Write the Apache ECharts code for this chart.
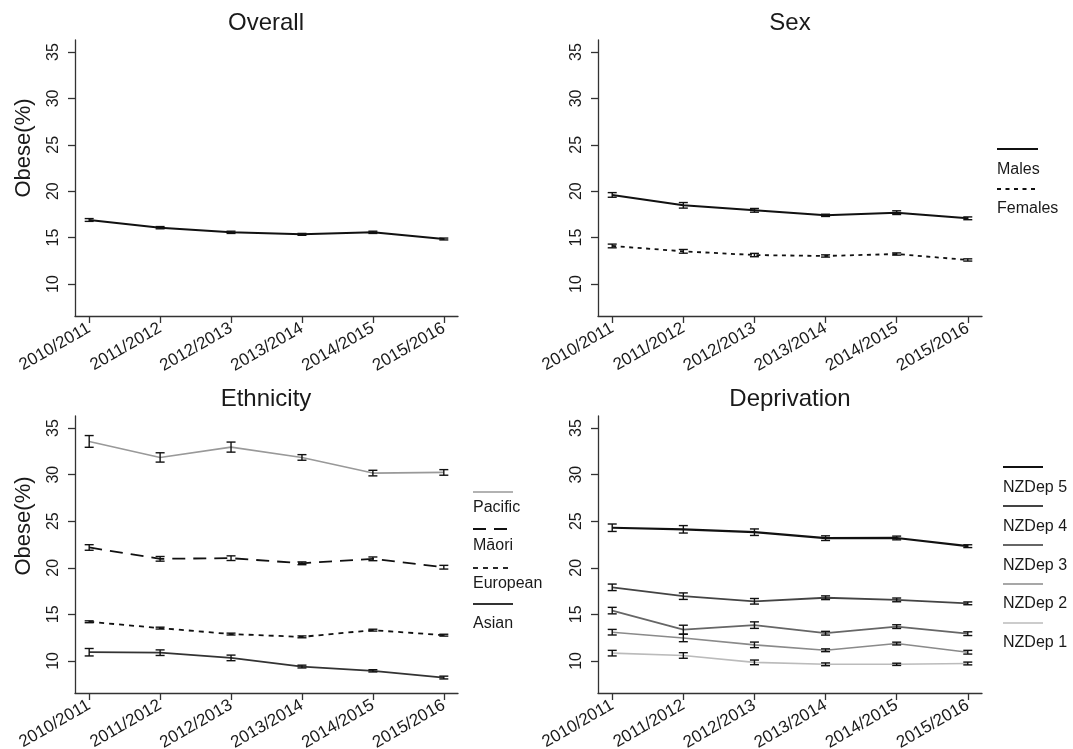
<!DOCTYPE html>
<html>
<head>
<meta charset="utf-8">
<script src="https://cdn.jsdelivr.net/npm/echarts@6/dist/echarts.min.js"></script>
<style>
  html, body { margin: 0; padding: 0; background: #fff; }
  #main { width: 1073px; height: 749px; }
</style>
</head>
<body>
<div id="main"></div>
<script>
// survey years and axis ticks
const years = ['2010/2011', '2011/2012', '2012/2013', '2013/2014', '2014/2015', '2015/2016']
const xTicks = [1, 2, 3, 4, 5, 6]
const yTicks = [10, 15, 20, 25, 30, 35]

// obese (%) with half-width of the error bar
const overall = [16.9, 16.07, 15.57, 15.35, 15.57, 14.85]
const overallErr = [0.15, 0.12, 0.12, 0.1, 0.12, 0.1]

const males = [19.6, 18.48, 17.94, 17.4, 17.69, 17.08]
const malesErr = [0.25, 0.3, 0.2, 0.12, 0.2, 0.15]
const females = [14.1, 13.52, 13.12, 13.02, 13.23, 12.59]
const femalesErr = [0.2, 0.2, 0.18, 0.12, 0.12, 0.12]

const pacific = [33.57, 31.85, 32.96, 31.85, 30.17, 30.24]
const pacificErr = [0.63, 0.5, 0.54, 0.3, 0.3, 0.3]
const maori = [22.18, 20.96, 21.03, 20.48, 20.96, 20.06]
const maoriErr = [0.3, 0.25, 0.25, 0.15, 0.2, 0.2]
const european = [14.2, 13.52, 12.88, 12.58, 13.3, 12.76]
const europeanErr = [0.1, 0.1, 0.1, 0.1, 0.1, 0.1]
const asian = [10.93, 10.88, 10.32, 9.39, 8.93, 8.21]
const asianErr = [0.4, 0.3, 0.3, 0.15, 0.12, 0.15]

const nzdep5 = [24.3, 24.13, 23.82, 23.18, 23.2, 22.32]
const nzdep5Err = [0.4, 0.4, 0.35, 0.25, 0.2, 0.15]
const nzdep4 = [17.9, 16.95, 16.4, 16.78, 16.55, 16.18]
const nzdep4Err = [0.35, 0.35, 0.3, 0.2, 0.2, 0.15]
const nzdep3 = [15.4, 13.35, 13.84, 12.97, 13.68, 12.92]
const nzdep3Err = [0.35, 0.48, 0.35, 0.2, 0.2, 0.2]
const nzdep2 = [13.08, 12.46, 11.72, 11.14, 11.86, 10.93]
const nzdep2Err = [0.3, 0.4, 0.3, 0.15, 0.15, 0.2]
const nzdep1 = [10.83, 10.58, 9.84, 9.63, 9.63, 9.72]
const nzdep1Err = [0.3, 0.3, 0.25, 0.15, 0.12, 0.15]

const FONT = 'Liberation Sans, Arial, Helvetica, sans-serif'
const INK = '#1a1a1a'

const chart = echarts.init(document.getElementById('main'))

// fixed plot boxes, labels may run to the page edge
const grids = [
  { left: 75, top: 40, width: 383, height: 276, outerBoundsMode: 'none' },
  { left: 598, top: 40, width: 384, height: 276, outerBoundsMode: 'none' },
  { left: 75, top: 416, width: 383, height: 277, outerBoundsMode: 'none' },
  { left: 598, top: 416, width: 384, height: 277, outerBoundsMode: 'none' }
]

const axisLine = { show: true, lineStyle: { color: '#333', width: 1.3 } }

const xAxes = grids.map((g, i) => ({
  gridIndex: i,
  type: 'value',
  min: 0.8,
  max: 6.2,
  axisLine: axisLine,
  splitLine: { show: false },
  axisTick: { show: true, length: 7, customValues: xTicks, lineStyle: { color: '#333', width: 1.3 } },
  axisLabel: {
    customValues: xTicks,
    formatter: v => years[v - 1],
    rotate: 30,
    margin: 11,
    fontSize: 17,
    fontFamily: FONT,
    color: INK
  }
}))

const yAxes = grids.map((g, i) => ({
  gridIndex: i,
  type: 'value',
  min: 6.55,
  max: 36.3,
  axisLine: axisLine,
  splitLine: { show: false },
  axisTick: { show: true, length: 7, customValues: yTicks, lineStyle: { color: '#333', width: 1.3 } },
  axisLabel: {
    customValues: yTicks,
    rotate: 90,
    margin: 13,
    fontSize: 16,
    fontFamily: FONT,
    color: INK
  }
}))

function lineSeries(name, values, idx, color, width, dash) {
  return {
    name: name,
    type: 'line',
    xAxisIndex: idx,
    yAxisIndex: idx,
    data: values.map((v, i) => [xTicks[i], v]),
    symbol: 'none',
    lineStyle: { color: color, width: width, type: dash || 'solid' },
    z: 2,
    animation: false
  }
}

function errSeries(values, errs, idx) {
  return {
    type: 'custom',
    xAxisIndex: idx,
    yAxisIndex: idx,
    data: values.map((v, i) => [xTicks[i], v - errs[i], v + errs[i]]),
    encode: { x: 0, y: [1, 2] },
    z: 3,
    animation: false,
    renderItem(params, api) {
      const x = api.value(0)
      const top = api.coord([x, api.value(2)])
      const bot = api.coord([x, api.value(1)])
      const w = 4.5
      const style = { stroke: '#111', lineWidth: 1.4 }
      return {
        type: 'group',
        children: [
          { type: 'line', shape: { x1: top[0], y1: top[1], x2: bot[0], y2: bot[1] }, style },
          { type: 'line', shape: { x1: top[0] - w, y1: top[1], x2: top[0] + w, y2: top[1] }, style },
          { type: 'line', shape: { x1: bot[0] - w, y1: bot[1], x2: bot[0] + w, y2: bot[1] }, style }
        ]
      }
    }
  }
}

// panel, label, values, errors, colour, width, dash
const lines = [
  [0, 'Overall', overall, overallErr, '#111', 2, 'solid'],
  [1, 'Males', males, malesErr, '#111', 2, 'solid'],
  [1, 'Females', females, femalesErr, '#111', 1.8, [4, 4.5]],
  [2, 'Pacific', pacific, pacificErr, '#999', 1.6, 'solid'],
  [2, 'Māori', maori, maoriErr, '#111', 1.8, [13, 8]],
  [2, 'European', european, europeanErr, '#111', 1.8, [5, 5]],
  [2, 'Asian', asian, asianErr, '#333', 1.8, 'solid'],
  [3, 'NZDep 5', nzdep5, nzdep5Err, '#111', 2.2, 'solid'],
  [3, 'NZDep 4', nzdep4, nzdep4Err, '#444', 1.8, 'solid'],
  [3, 'NZDep 3', nzdep3, nzdep3Err, '#666', 1.8, 'solid'],
  [3, 'NZDep 2', nzdep2, nzdep2Err, '#8a8a8a', 1.6, 'solid'],
  [3, 'NZDep 1', nzdep1, nzdep1Err, '#bbb', 1.6, 'solid']
]

const series = []
lines.forEach(l => {
  series.push(lineSeries(l[1], l[2], l[0], l[4], l[5], l[6]))
  series.push(errSeries(l[2], l[3], l[0]))
})

// R-style legends: line sample above the label
const legendBlocks = [
  { x: 997, len: 41, lineY: [149, 189], textY: [170, 209], items: lines.filter(l => l[0] === 1) },
  { x: 473, len: 40, lineY: [492, 529, 568, 604], textY: [508, 546, 584, 624], items: lines.filter(l => l[0] === 2) },
  { x: 1003, len: 40, lineY: [467, 506, 545, 584, 623], textY: [488, 527, 566, 604, 643], items: lines.filter(l => l[0] === 3) }
]

const graphic = []
legendBlocks.forEach(b => {
  b.items.forEach((l, i) => {
    const dash = Array.isArray(l[6]) ? l[6] : null
    graphic.push({
      type: 'line',
      shape: { x1: b.x, y1: b.lineY[i], x2: b.x + b.len, y2: b.lineY[i] },
      style: { stroke: l[4], lineWidth: l[5], lineDash: dash }
    })
    graphic.push({
      type: 'text',
      x: b.x,
      y: b.textY[i],
      style: { text: l[1], font: '16px ' + FONT, fill: INK, textAlign: 'left', textVerticalAlign: 'middle' }
    })
  })
})

// y axis names on the left panels
;[148, 526].forEach(y => {
  graphic.push({
    type: 'text',
    x: 24,
    y: y,
    rotation: Math.PI / 2,
    style: { text: 'Obese(%)', font: '22px ' + FONT, fill: INK, textAlign: 'center', textVerticalAlign: 'middle' }
  })
})

const titles = [
  ['Overall', 266, 11],
  ['Sex', 790, 11],
  ['Ethnicity', 266, 387],
  ['Deprivation', 790, 387]
].map(t => ({
  text: t[0],
  left: t[1],
  top: t[2],
  textAlign: 'center',
  padding: 0,
  textStyle: { fontSize: 24, fontWeight: 'normal', fontFamily: FONT, color: INK }
}))

chart.setOption({
  backgroundColor: '#fff',
  animation: false,
  title: titles,
  grid: grids,
  xAxis: xAxes,
  yAxis: yAxes,
  series: series,
  graphic: graphic
})
</script>
</body>
</html>
